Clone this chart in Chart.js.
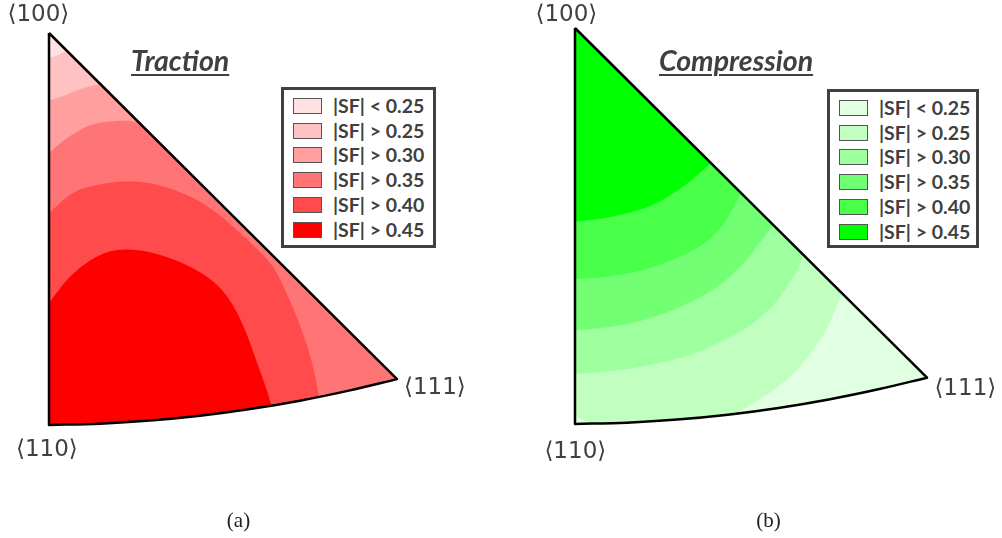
<!DOCTYPE html>
<html>
<head>
<meta charset="utf-8">
<title>Schmid factor - inverse pole figures</title>
<script src="https://cdn.jsdelivr.net/npm/chart.js@4.4.1/dist/chart.umd.min.js"></script>
<style>
  html, body { margin: 0; padding: 0; background: #fff; }
  body { position: relative; width: 1002px; height: 538px; overflow: hidden; }
  canvas { position: absolute; top: 0; }
  .pole { position: absolute; font: 23px "DejaVu Sans", sans-serif; line-height: 23px; color: #404040; white-space: nowrap; }
  .title { position: absolute; font: italic bold 28.5px Lato, sans-serif; line-height: 28.5px; color: #404040; white-space: nowrap;
           text-decoration: underline; text-decoration-thickness: 2px; text-underline-offset: 3px; }
  .legend { position: absolute; box-sizing: border-box; border: 3px solid #404040; background: #fff; }
  .legend .sw { position: absolute; box-sizing: border-box; width: 29px; height: 16px; border: 1.5px solid #555; }
  .legend .txt { position: absolute; font: bold 19.5px Lato, sans-serif; line-height: 16px; color: #404040; white-space: nowrap; }
  .caption { position: absolute; width: 60px; text-align: center; font: 21px "Liberation Serif", serif; line-height: 21px; color: #222; }
</style>
</head>
<body>
<canvas id="chartTraction" width="501" height="538" style="left:0"></canvas>
<canvas id="chartCompression" width="501" height="538" style="left:501px"></canvas>

<script>
// legend levels and colours
const levelLabels = ['|SF| < 0.25', '|SF| > 0.25', '|SF| > 0.30', '|SF| > 0.35', '|SF| > 0.40', '|SF| > 0.45'];
const tractionColors = ['#ffe1e3', '#ffc1c1', '#ff9f9f', '#ff7474', '#ff4b4b', '#ff0000'];
const compressionColors = ['#e1ffe1', '#c1ffc1', '#9dff9d', '#73ff73', '#49ff49', '#00ff00'];
const poleLabels = ['\u27e8100\u27e9', '\u27e8110\u27e9', '\u27e8111\u27e9'];
const panelTitles = ['Traction', 'Compression'];
const panelCaptions = ['(a)', '(b)'];

// standard triangle, u along <110>-<111>, v along <110>-<100>
const pole100 = [0, 1];
const pole110 = [0, 0];
const pole111 = [1, 0.117];
const bottomArc = [[0, 0], [0.147, 0.0034], [0.290, 0.0112], [0.434, 0.0235], [0.578, 0.0406],
                   [0.721, 0.0620], [0.865, 0.0883], [1, 0.117]];

// traction iso-lines (left edge -> hypotenuse, or left edge -> bottom arc)
const trac25 = [[0, 0.9375], [0.026, 0.943], [0.050, 0.956]];
const trac30 = [[0, 0.828], [0.037, 0.838], [0.075, 0.852], [0.110, 0.862], [0.147, 0.870]];
const trac35 = [[0, 0.694], [0.037, 0.722], [0.075, 0.745], [0.126, 0.767], [0.175, 0.774],
                [0.218, 0.776], [0.247, 0.773], [0.264, 0.767]];
const trac40 = [[0, 0.541], [0.069, 0.592], [0.138, 0.612], [0.213, 0.621], [0.290, 0.617],
                [0.362, 0.599], [0.425, 0.574], [0.486, 0.538], [0.549, 0.490], [0.601, 0.446],
                [0.644, 0.403], [0.687, 0.327], [0.721, 0.255], [0.747, 0.186], [0.764, 0.128], [0.776, 0.072]];
const trac45 = [[0, 0.311], [0.032, 0.349], [0.066, 0.383], [0.112, 0.416], [0.167, 0.441],
                [0.224, 0.448], [0.290, 0.441], [0.376, 0.416], [0.454, 0.378], [0.511, 0.329],
                [0.557, 0.255], [0.595, 0.166], [0.624, 0.094], [0.639, 0.050]];

// compression iso-lines
const comp25Corner = [[0, 0.023], [0.020, 0.012], [0.043, 0.001]];
const comp25 = [[0.759, 0.329], [0.739, 0.288], [0.713, 0.237], [0.676, 0.187], [0.634, 0.141],
                [0.582, 0.098], [0.526, 0.063], [0.460, 0.027]];
const comp30 = [[0, 0.126], [0.114, 0.135], [0.213, 0.149], [0.327, 0.174], [0.418, 0.210],
                [0.491, 0.245], [0.540, 0.280], [0.580, 0.318], [0.614, 0.364], [0.634, 0.394], [0.648, 0.427]];
const comp35 = [[0, 0.237], [0.099, 0.245], [0.185, 0.260], [0.264, 0.283], [0.341, 0.313],
                [0.406, 0.348], [0.460, 0.389], [0.503, 0.432], [0.531, 0.465], [0.563, 0.502]];
const comp40 = [[0, 0.366], [0.071, 0.370], [0.156, 0.381], [0.241, 0.402], [0.313, 0.429],
                [0.369, 0.457], [0.418, 0.500], [0.449, 0.545], [0.472, 0.583]];
const comp45 = [[0, 0.511], [0.071, 0.518], [0.156, 0.534], [0.227, 0.556], [0.284, 0.586],
                [0.335, 0.619], [0.386, 0.659]];

// page placement of each panel (pixels)
const layouts = [
    { canvas: 'chartTraction', canvasLeft: 0, origin: [49, 425], span: [348, 392],
      poles: [[7.5, 2.3], [16, 437.3], [404, 374.6]], title: [131, 46.4],
      legend: [281, 87, 155, 161], caption: 238.5 },
    { canvas: 'chartCompression', canvasLeft: 501, origin: [575, 424], span: [352, 396],
      poles: [[535.5, 2.3], [544.4, 439], [934.4, 375.6]], title: [659, 46.4],
      legend: [827, 89, 152, 159], caption: 768.5 }
];

// a repeated point keeps a sharp corner when tension is on
function twice(p) { return [p, p]; }
function inner(list) { return list.slice(1, -1); }
function first(list) { return list[0]; }
function last(list) { return list[list.length - 1]; }
function arcInside(u0, u1) {
    return inner(bottomArc).filter(p => p[0] > u0 + 1e-6 && p[0] < u1 - 1e-6);
}

const outline = [...twice(pole100), ...twice(pole110), ...arcInside(0, 1), ...twice(pole111), pole100];

// area under a line ending on the hypotenuse
function belowToHyp(line) {
    return [...twice(first(line)), ...inner(line), ...twice(last(line)), ...twice(pole111),
            ...arcInside(0, 1).reverse(), ...twice(pole110), first(line)];
}
// area under a line ending on the bottom arc
function belowToArc(line) {
    return [...twice(first(line)), ...inner(line), ...twice(last(line)),
            ...arcInside(0, last(line)[0]).reverse(), ...twice(pole110), first(line)];
}
// area above a line ending on the hypotenuse
function aboveToHyp(line) {
    return [...twice(pole100), ...twice(first(line)), ...inner(line), ...twice(last(line)), pole100];
}

const tractionRegions = [outline, belowToHyp(trac25), belowToHyp(trac30), belowToHyp(trac35),
                         belowToArc(trac40), belowToArc(trac45)];

const comp25Region = [...twice(pole100), ...twice(first(comp25Corner)), ...inner(comp25Corner),
    ...twice(last(comp25Corner)), ...arcInside(last(comp25Corner)[0], last(comp25)[0]),
    ...twice(last(comp25)), ...inner(comp25).reverse(), ...twice(first(comp25)), pole100];
const compressionRegions = [outline, comp25Region, aboveToHyp(comp30), aboveToHyp(comp35),
                            aboveToHyp(comp40), aboveToHyp(comp45)];

function toXY(list) {
    return list.map(p => ({ x: p[0], y: p[1] }));
}

function makeChart(layout, regions, colors) {
    const canvas = document.getElementById(layout.canvas);
    const cw = canvas.width, ch = canvas.height;
    const [ox, oy] = layout.origin;
    const [sx, sy] = layout.span;

    const datasets = regions.map((poly, i) => ({
        label: levelLabels[i],
        data: toXY(poly),
        backgroundColor: colors[i],
        borderWidth: 0,
        fill: 'shape',
        tension: 0.35,
        pointRadius: 0,
        order: 20 - i
    }));
    datasets.push({
        label: 'outline',
        data: toXY(outline),
        borderColor: '#000',
        borderWidth: 2.5,
        borderJoinStyle: 'round',
        fill: false,
        tension: 0.35,
        pointRadius: 0,
        order: 0
    });

    new Chart(canvas, {
        type: 'line',
        data: { datasets: datasets },
        options: {
            responsive: false,
            animation: false,
            events: [],
            layout: { padding: 0 },
            scales: {
                x: { type: 'linear', display: false,
                     min: (layout.canvasLeft - ox) / sx, max: (layout.canvasLeft + cw - ox) / sx },
                y: { type: 'linear', display: false,
                     min: (oy - ch) / sy, max: oy / sy }
            },
            plugins: {
                legend: { display: false },
                tooltip: { enabled: false }
            }
        }
    });
}

function addDiv(cls, text, left, top, parent) {
    const d = document.createElement('div');
    d.className = cls;
    d.textContent = text;
    d.style.left = left + 'px';
    d.style.top = top + 'px';
    (parent || document.body).appendChild(d);
    return d;
}

function addLegend(box, colors) {
    const [x, y, w, h] = box;
    const lg = addDiv('legend', '', x, y);
    lg.style.width = w + 'px';
    lg.style.height = h + 'px';
    levelLabels.forEach((label, i) => {
        const top = 8 + 24.7 * i;
        const sw = addDiv('sw', '', 9, top, lg);
        sw.style.background = colors[i];
        addDiv('txt', label, 49, top, lg);
    });
}

const allColors = [tractionColors, compressionColors];
const allRegions = [tractionRegions, compressionRegions];

layouts.forEach((lay, k) => {
    makeChart(lay, allRegions[k], allColors[k]);
    poleLabels.forEach((t, i) => addDiv('pole', t, lay.poles[i][0], lay.poles[i][1]));
    addDiv('title', panelTitles[k], lay.title[0], lay.title[1]);
    addLegend(lay.legend, allColors[k]);
    addDiv('caption', panelCaptions[k], lay.caption - 30, 510);
});
</script>
</body>
</html>
